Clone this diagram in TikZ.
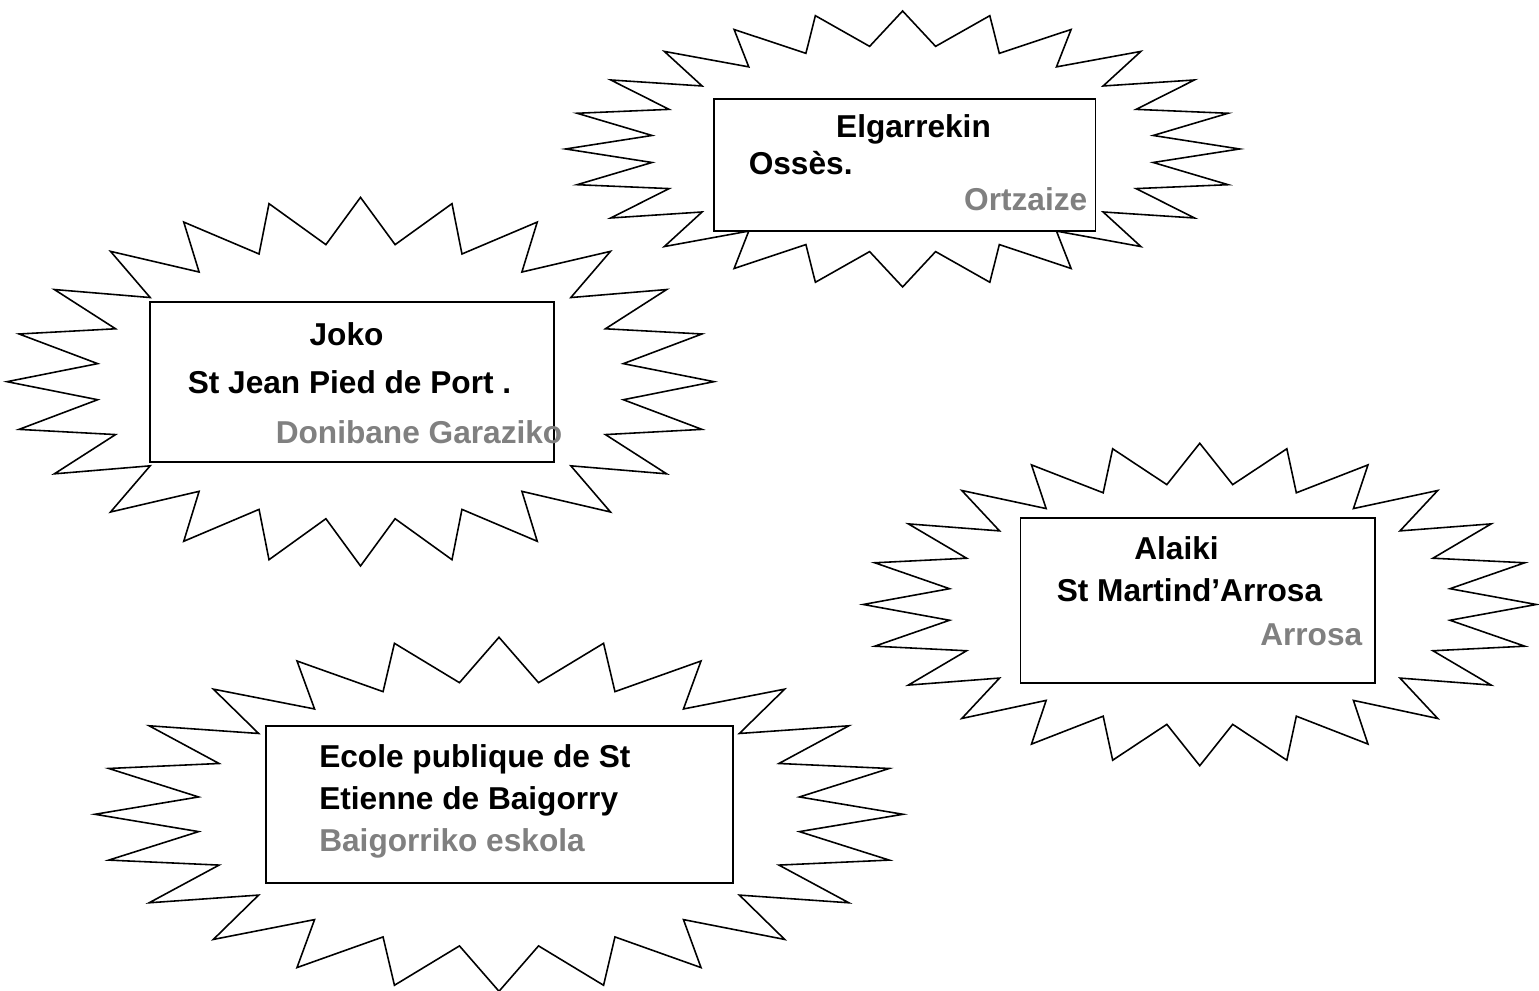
\documentclass[tikz,border=0pt]{standalone}
\usepackage{fontspec}
\setmainfont{Liberation Sans}
\definecolor{basquegray}{RGB}{128,128,128}
\tikzstyle{every path}=[line width=0.45pt]
\tikzstyle{every node}=[inner sep=0pt, font=\fontsize{9}{10.8}\selectfont\bfseries]
\tikzstyle{burst}=[draw=black, fill=white, line join=miter]
\tikzstyle{plate}=[draw=black, fill=white, line width=0.55pt]
\tikzstyle{basque}=[text=basquegray]
\newcommand{\drawburst}[4]{%
  \begin{scope}[shift={(#1,#2)}, x=#3cm, y=#4cm]
    \draw[burst] (90:1) \foreach \j in {1,...,23} { -- ({97.5-15*\j}:0.75) -- ({90-15*\j}:1) } -- (97.5:0.75) -- cycle;
  \end{scope}}

\begin{document}
\begin{tikzpicture}
    \useasboundingbox (0,0) rectangle (15.39,9.91);

    \drawburst{9.026}{8.42}{3.37}{1.38}
    \drawburst{3.605}{6.093}{3.535}{1.843}
    \drawburst{11.9975}{3.865}{3.365}{1.612}
    \drawburst{4.99}{1.767}{4.04}{1.77}

    \node[plate, minimum width=3.817cm, minimum height=1.317cm] (elgbox) at (9.0465,8.2615) {};
    \node[anchor=base] (elgname) at (9.135,8.53) {Elgarrekin};
    \node[anchor=base west] (elgtown) at (7.48,8.16) {Ossès.};
    \node[anchor=base east, basque] (elgbasque) at (10.88,7.80) {Ortzaize};

    \node[plate, minimum width=4.04cm, minimum height=1.594cm] (jokobox) at (3.52,6.09) {};
    \node[anchor=base] (jokoname) at (3.465,6.45) {Joko};
    \node[anchor=base west] (jokotown) at (1.87,5.97) {St Jean Pied de Port .};
    \node[anchor=base west, basque] (jokobasque) at (2.75,5.47) {Donibane Garaziko};

    \node[plate, minimum width=3.545cm, minimum height=1.65cm] (alaikibox) at (11.9775,3.908) {};
    \node[anchor=base] (alaikiname) at (11.765,4.31) {Alaiki};
    \node[anchor=base west] (alaikitown) at (10.56,3.89) {St Martind’Arrosa};
    \node[anchor=base east, basque] (alaikibasque) at (13.63,3.45) {Arrosa};

    \node[plate, minimum width=4.671cm, minimum height=1.576cm] (ecolebox) at (4.9975,1.865) {};
    \node[anchor=base west] (ecolename) at (3.185,2.23) {Ecole publique de St};
    \node[anchor=base west] (ecoletown) at (3.185,1.815) {Etienne de Baigorry};
    \node[anchor=base west, basque] (ecolebasque) at (3.185,1.395) {Baigorriko eskola};
\end{tikzpicture}
\end{document}
